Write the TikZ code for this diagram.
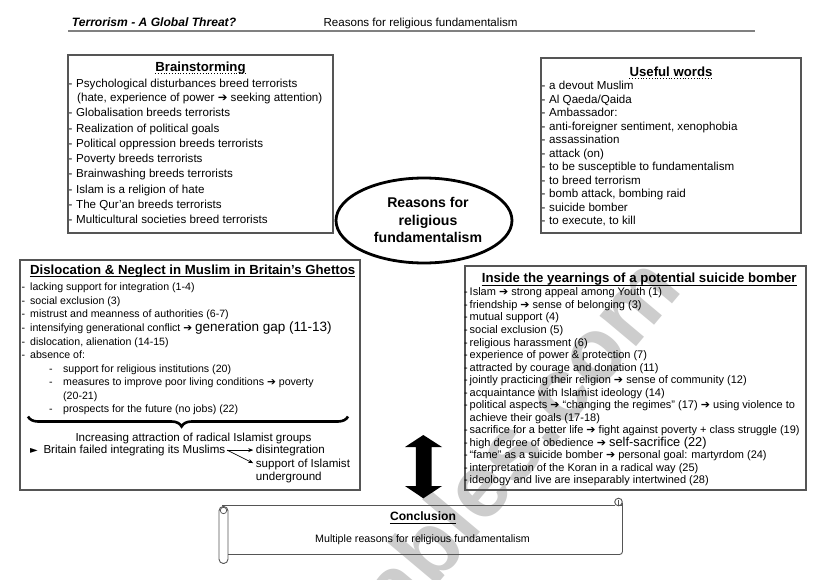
\documentclass[tikz,border=0pt]{standalone}
\usepackage{fontspec}
\setmainfont{Liberation Sans}
\newfontfamily\symf{DejaVu Sans}
\usetikzlibrary{decorations.pathreplacing,arrows.meta,shapes.geometric}
\definecolor{bord}{RGB}{85,85,85}
\definecolor{wmark}{RGB}{205,205,205}
\newcommand{\arr}{{\symf ➔}}
\newcommand{\dsh}[1]{\makebox[#1pt][l]{-}}
\newcommand{\myszA}{\fontsize{11.6}{13}\selectfont}
\newcommand{\myszB}{\fontsize{10.6}{12}\selectfont}
\newcommand{\myszC}{\fontsize{11.0}{12}\selectfont}
\newcommand{\myszT}{\fontsize{13.2}{15}\selectfont\bfseries}
\newcommand{\myszL}{\fontsize{13.5}{14}\selectfont}
\newcommand{\myszM}{\fontsize{12.8}{14}\selectfont}
\tikzset{
  ln/.style={anchor=base west, inner sep=0pt},
  ctr/.style={anchor=base, inner sep=0pt},
  boxl/.style={draw=bord, line width=1.1pt},
  ttl/.style={anchor=base, inner sep=0pt, font=\myszT},
}
\begin{document}
\begin{tikzpicture}[x=1pt,y=-1pt]
\useasboundingbox (0,0) rectangle (821,580);
\fill[white] (0,0) rectangle (821,580);
% watermark
\node[anchor=base east, inner sep=0pt, rotate=50, text=wmark, font=\fontsize{90}{95}\selectfont\bfseries] (wm) at (684,290) {eslprintables.com};
% header
\node[ln, font=\fontsize{12.1}{14}\selectfont\bfseries\itshape] (hd1) at (71.7,26.7) {Terrorism - A Global Threat?};
\node[ln, font=\myszA] (hd2) at (323.3,26.5) {Reasons for religious fundamentalism};
\coordinate (hl1) at (68,30.7);
\coordinate (hl2) at (755,30.7);
\draw[draw=gray, line width=1.8pt] (hl1) -- (hl2);
% Brainstorming box
\draw[boxl] (68,55) rectangle (333,233);
\node[ttl] (bsT) at (200.5,71.1) {Brainstorming};
\draw[dotted, line width=0.8pt] ([yshift=-2.3pt]bsT.base west) -- ([yshift=-2.3pt]bsT.base east);
\node[ln,font=\myszA] (bs1) at (68.5,87.3) {\dsh{7.5}Psychological disturbances breed terrorists};
\node[ln,font=\myszA] (bs2) at (77,101.8) {(hate, experience of power \arr\ seeking attention)};
\foreach \t [count=\i from 3] in {Globalisation breeds terrorists, Realization of political goals, Political oppression breeds terrorists, Poverty breeds terrorists, Brainwashing breeds terrorists, Islam is a religion of hate, The Qur’an breeds terrorists, Multicultural societies breed terrorists}
  \node[ln,font=\myszA] (bs\i) at (68.5,{116.8+15.3*(\i-3)}) {\dsh{7.5}\t};
% Useful words box
\draw[boxl] (541,58) rectangle (801,233);
\node[ttl] (uwT) at (671,76.1) {Useful words};
\draw[dotted, line width=0.8pt] ([yshift=-2.3pt]uwT.base west) -- ([yshift=-2.3pt]uwT.base east);
\foreach \t [count=\i from 0] in {a devout Muslim, Al Qaeda/Qaida, Ambassador:, {anti-foreigner sentiment, xenophobia}, assassination, attack (on), to be susceptible to fundamentalism, to breed terrorism, {bomb attack, bombing raid}, suicide bomber, {to execute, to kill}}
  \node[ln,font=\myszA] (uw\i) at (541.5,{89.8+13.47*\i}) {\dsh{7.5}\t};
% central ellipse
\node[draw, ellipse, line width=2.8pt, minimum width=176pt, minimum height=85pt, inner sep=0pt] (ell) at (424,220.5) {};
\node[ctr, font=\fontsize{14.1}{17}\selectfont\bfseries] (el1) at (428,207.8) {Reasons for};
\node[ctr, font=\fontsize{14.1}{17}\selectfont\bfseries] (el2) at (428,225.3) {religious};
\node[ctr, font=\fontsize{14.1}{17}\selectfont\bfseries] (el3) at (428,242.8) {fundamentalism};
% Dislocation box
\draw[boxl] (20,260) rectangle (360,490);
\node[ttl] (dlT) at (192.7,274.4) {Dislocation \& Neglect in Muslim in Britain’s Ghettos};
\draw[line width=0.8pt] ([yshift=-2.3pt]dlT.base west) -- ([yshift=-2.3pt]dlT.base east);
\node[ln,font=\myszB] (dl1) at (21.5,290.8) {\dsh{8.5}lacking support for integration (1-4)};
\node[ln,font=\myszB] (dl2) at (21.5,304.4) {\dsh{8.5}social exclusion (3)};
\node[ln,font=\myszB] (dl3) at (21.5,317.9) {\dsh{8.5}mistrust and meanness of authorities (6-7)};
\node[ln,font=\myszB] (dl4) at (21.5,331.5) {\dsh{8.5}intensifying generational conflict \arr\ {\myszL generation gap (11-13)}};
\node[ln,font=\myszB] (dl5) at (21.5,345.0) {\dsh{8.5}dislocation, alienation (14-15)};
\node[ln,font=\myszB] (dl6) at (21.5,358.6) {\dsh{8.5}absence of:};
\node[ln,font=\myszB] (dl7) at (49,372.1) {\dsh{14}support for religious institutions (20)};
\node[ln,font=\myszB] (dl8) at (49,385.7) {\dsh{14}measures to improve poor living conditions \arr\ poverty};
\node[ln,font=\myszB] (dl9) at (63,399.2) {(20-21)};
\node[ln,font=\myszB] (dl10) at (49,412.8) {\dsh{14}prospects for the future (no jobs) (22)};
\coordinate (brL) at (28,416.5);
\coordinate (brR) at (348,416.5);
\draw[line width=2.6pt, decorate, decoration={brace, mirror, amplitude=10pt, aspect=0.48}] (brL) -- (brR);
\node[ctr,font=\myszA] (inc) at (193.5,441.1) {Increasing attraction of radical Islamist groups};
\node[ln,font=\fontsize{10}{12}\selectfont\symf] (tri) at (30,453.1) {►};
\node[ln,font=\myszA] (brit) at (43.3,453.1) {Britain failed integrating its Muslims};
\node[ln,font=\myszA] (dis) at (255.7,453.1) {disintegration};
\node[ln,font=\myszA] (sup) at (255.7,467.1) {support of Islamist};
\node[ln,font=\myszA] (und) at (255.7,480.5) {underground};
\draw[-{Stealth[length=5pt,width=4pt]}, line width=0.7pt] ([xshift=1.5pt]brit.east) -- ([xshift=-2.5pt]dis.west);
\draw[-{Stealth[length=5pt,width=4pt]}, line width=0.7pt] ([xshift=1.5pt]brit.east) -- ([xshift=-2.5pt,yshift=1pt]sup.west);
% Inside box
\draw[boxl] (465,266) rectangle (806,490);
\node[ttl] (inT) at (639.2,282.7) {Inside the yearnings of a potential suicide bomber};
\draw[line width=0.8pt] ([yshift=-2.3pt]inT.base west) -- ([yshift=-2.3pt]inT.base east);
\foreach \t [count=\i from 0] in {Islam \arr\ strong appeal among Youth (1), friendship \arr\ sense of belonging (3), mutual support (4), social exclusion (5), religious harassment (6), experience of power \& protection (7), attracted by courage and donation (11), jointly practicing their religion \arr\ sense of community (12), acquaintance with Islamist ideology (14), political aspects \arr\ “changing the regimes” (17) \arr\ using violence to}
  \node[ln,font=\myszC] (in\i) at (464,{295.9+12.53*\i}) {\dsh{5.5}\t};
\node[ln,font=\myszC] (in10) at (469.5,{295.9+12.53*10}) {achieve their goals (17-18)};
\foreach \t [count=\i from 11] in {sacrifice for a better life \arr\ fight against poverty + class struggle (19), high degree of obedience \arr\ {\myszM self-sacrifice (22)}, “fame” as a suicide bomber \arr\ personal goal: martyrdom (24), interpretation of the Koran in a radical way (25), ideology and live are inseparably intertwined (28)}
  \node[ln,font=\myszC] (in\i) at (464,{295.9+12.53*\i}) {\dsh{5.5}\t};
% double arrow
\fill[black] (423.3,435) -- (442,447) -- (431.7,447) -- (431.7,486) -- (442,486) -- (423.3,498.3) -- (405,486) -- (415.8,486) -- (415.8,447) -- (405,447) -- cycle;
% Conclusion scroll
\draw[draw=bord, line width=0.9pt] (222,505) -- (615,505);
\draw[draw=bord, line width=0.9pt, rounded corners=3pt] (622.5,503) -- (622.5,554.5) -- (228,554.5);
\draw[draw=bord, line width=0.9pt] (618.5,502) circle (3.8pt);
\draw[draw=bord, line width=0.7pt] (618.5,500) -- (618.5,505) -- (622.5,505);
\draw[draw=bord, line width=0.9pt, rounded corners=4.3pt] (219,506.5) rectangle (228,563.5);
\draw[draw=bord, line width=0.7pt] (223.5,510.5) circle (3.2pt);
\node[ttl, font=\fontsize{12.1}{14}\selectfont\bfseries] (coT) at (423,520.7) {Conclusion};
\draw[line width=0.8pt] ([yshift=-2.3pt]coT.base west) -- ([yshift=-2.3pt]coT.base east);
\node[ctr, font=\fontsize{10.7}{12}\selectfont] (coX) at (422.5,542.8) {Multiple reasons for religious fundamentalism};
\end{tikzpicture}
\end{document}
